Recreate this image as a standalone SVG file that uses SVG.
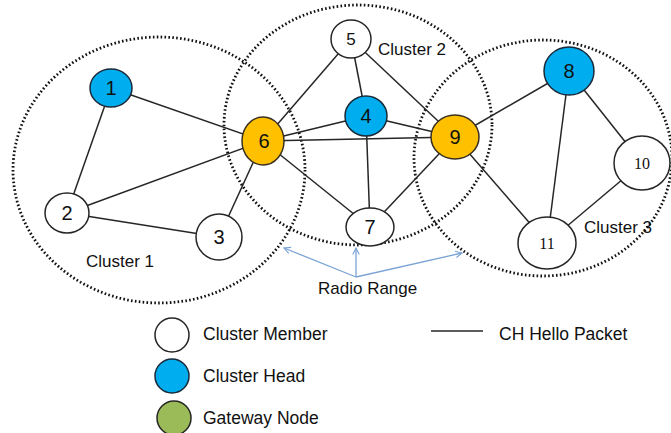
<svg xmlns="http://www.w3.org/2000/svg" width="671" height="433" viewBox="0 0 671 433">
  <defs>
    <marker id="arrowhead" viewBox="0 0 10 10" refX="9" refY="5" markerWidth="8" markerHeight="8" orient="auto-start-reverse" markerUnits="userSpaceOnUse">
      <path d="M1,1 L9,5 L1,9" fill="none" stroke="#7aa3d4" stroke-width="1.4"/>
    </marker>
  </defs>
  <style>
    .range { fill: none; stroke: #111; stroke-width: 2.8; stroke-dasharray: 1.6 2.3; }
    .edge { stroke: #262626; stroke-width: 1.5; fill: none; }
    .member { fill: #ffffff; stroke: #262626; stroke-width: 1.5; }
    .head { fill: #00aeef; stroke: #1a2a3a; stroke-width: 1.5; }
    .gateway { fill: #ffc000; stroke: #3a3020; stroke-width: 1.5; }
    .green { fill: #9bbb59; stroke: #262626; stroke-width: 1.5; }
    .num { font-family: "Liberation Sans", Arial, sans-serif; font-size: 20px; fill: #111; text-anchor: middle; }
    .numserif { font-family: "Liberation Serif", "Times New Roman", serif; font-size: 16px; fill: #111; text-anchor: middle; }
    .label { font-family: "Liberation Sans", Arial, sans-serif; font-size: 17px; fill: #111; }
    .legend-text { font-size: 17.5px; }
    .radio { stroke: #7aa3d4; stroke-width: 1.3; fill: none; }
  </style>

  <rect width="671" height="433" fill="#ffffff"/>

  <!-- radio range boundaries -->
  <g id="ranges">
    <ellipse class="range" cx="159" cy="170" rx="146" ry="133"/>
    <ellipse class="range" cx="358" cy="125" rx="134" ry="120"/>
    <ellipse class="range" cx="543" cy="158" rx="129" ry="118"/>
  </g>

  <!-- connectors (CH hello packets) -->
  <g id="connectors">
    <line class="edge" x1="111" y1="88" x2="263" y2="141"/>
    <line class="edge" x1="111" y1="88" x2="67" y2="213"/>
    <line class="edge" x1="67" y1="213" x2="263" y2="141"/>
    <line class="edge" x1="67" y1="213" x2="219" y2="237"/>
    <line class="edge" x1="219" y1="237" x2="263" y2="141"/>
    <line class="edge" x1="263" y1="141" x2="351" y2="39"/>
    <line class="edge" x1="263" y1="141" x2="366" y2="116"/>
    <line class="edge" x1="263" y1="141" x2="455" y2="137"/>
    <line class="edge" x1="263" y1="141" x2="370" y2="227"/>
    <line class="edge" x1="351" y1="39" x2="366" y2="116"/>
    <line class="edge" x1="351" y1="39" x2="455" y2="137"/>
    <line class="edge" x1="366" y1="116" x2="455" y2="137"/>
    <line class="edge" x1="366" y1="116" x2="370" y2="227"/>
    <line class="edge" x1="370" y1="227" x2="455" y2="137"/>
    <line class="edge" x1="455" y1="137" x2="569" y2="71"/>
    <line class="edge" x1="455" y1="137" x2="547" y2="243"/>
    <line class="edge" x1="569" y1="71" x2="547" y2="243"/>
    <line class="edge" x1="569" y1="71" x2="642" y2="163"/>
    <line class="edge" x1="642" y1="163" x2="547" y2="243"/>
  </g>

  <!-- nodes -->
  <g id="node-1"><ellipse class="head" cx="111" cy="88" rx="21" ry="19"/><text class="num" x="111" y="95">1</text></g>
  <g id="node-2"><ellipse class="member" cx="67" cy="213" rx="22" ry="20"/><text class="num" x="67" y="220">2</text></g>
  <g id="node-3"><ellipse class="member" cx="219" cy="237" rx="23" ry="23"/><text class="num" x="219" y="244">3</text></g>
  <g id="node-4"><ellipse class="head" cx="366" cy="116" rx="21" ry="20"/><text class="num" x="366" y="123">4</text></g>
  <g id="node-5"><ellipse class="member" cx="351" cy="39" rx="20" ry="19"/><text class="num" x="351" y="45" style="font-size:17px">5</text></g>
  <g id="node-6"><ellipse class="gateway" cx="263" cy="141" rx="21" ry="24"/><text class="num" x="264" y="148">6</text></g>
  <g id="node-7"><ellipse class="member" cx="370" cy="227" rx="24" ry="19"/><text class="num" x="370" y="234">7</text></g>
  <g id="node-8"><ellipse class="head" cx="569" cy="71" rx="25" ry="24"/><text class="num" x="569" y="78">8</text></g>
  <g id="node-9"><ellipse class="gateway" cx="455" cy="137" rx="24" ry="22"/><text class="num" x="455" y="144">9</text></g>
  <g id="node-10"><ellipse class="member" cx="642" cy="163" rx="28" ry="27"/><text class="numserif" x="642" y="169">10</text></g>
  <g id="node-11"><ellipse class="member" cx="547" cy="243" rx="29" ry="26"/><text class="numserif" x="547" y="249">11</text></g>

  <!-- cluster labels -->
  <g id="cluster-labels">
    <text class="label" x="86" y="267">Cluster 1</text>
    <text class="label" x="378" y="55">Cluster 2</text>
    <text class="label" x="584" y="233">Cluster 3</text>
  </g>

  <!-- radio range annotation -->
  <g id="radio-range">
    <line class="radio" x1="356" y1="277" x2="284" y2="248" marker-end="url(#arrowhead)"/>
    <line class="radio" x1="356" y1="277" x2="356" y2="248" marker-end="url(#arrowhead)"/>
    <line class="radio" x1="356" y1="277" x2="462" y2="253" marker-end="url(#arrowhead)"/>
    <text class="label" x="318" y="294">Radio Range</text>
  </g>

  <!-- legend -->
  <g id="legend">
    <circle class="member" cx="172" cy="335" r="17"/>
    <text class="label legend-text" x="203" y="340">Cluster Member</text>
    <circle class="head" cx="172" cy="376" r="17"/>
    <text class="label legend-text" x="203" y="382">Cluster Head</text>
    <circle class="green" cx="174" cy="418" r="17"/>
    <text class="label legend-text" x="203" y="424">Gateway Node</text>
    <line class="edge" x1="431" y1="331" x2="483" y2="331"/>
    <text class="label legend-text" x="499" y="340">CH Hello Packet</text>
  </g>
</svg>
